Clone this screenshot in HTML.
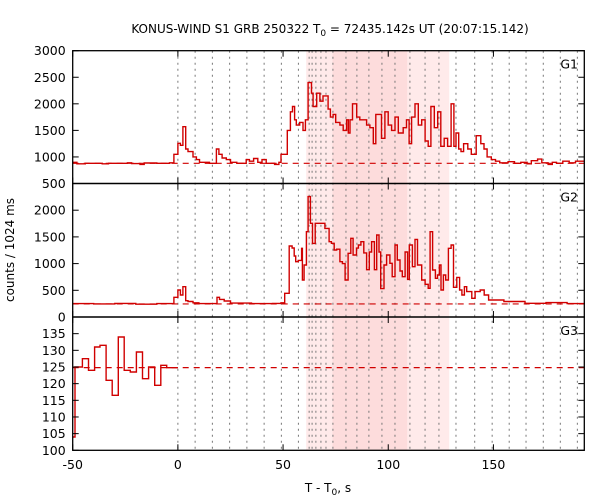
<!DOCTYPE html>
<html><head><meta charset="utf-8"><style>
html,body{margin:0;padding:0;background:#fff}
svg{display:block;font-family:"DejaVu Sans","Liberation Sans",sans-serif}
</style></head><body>
<svg id="chart" width="600" height="500" viewBox="0 0 600 500" xmlns="http://www.w3.org/2000/svg">
<text x="330" y="33" text-anchor="middle" font-size="12">KONUS-WIND S1 GRB 250322 T<tspan font-size="9" dy="3">0</tspan><tspan dy="-3"> = 72435.142s UT (20:07:15.142)</tspan></text>
<text transform="translate(14,250) rotate(-90)" text-anchor="middle" font-size="12">counts / 1024 ms</text>
<text x="328" y="492" text-anchor="middle" font-size="12">T - T<tspan font-size="9" dy="3">0</tspan><tspan dy="-3">, s</tspan></text>
<g id="layer"></g>
</svg>
<script>
// ---- data ----
const xTicks = [-50, 0, 50, 100, 150];
const dottedTimes = [0, 8.2, 16.4, 24.6, 32.8, 41, 49.2, 57.3, 62.4, 63.8, 65.6, 68, 70.4, 73.7, 79.9, 85.1, 90.8, 97, 103.2, 110.3, 117.5, 124.1, 132.2, 141.1, 149.4, 157.5, 165.5, 173.7, 181.8, 189.9];
const lightShade = [61, 129];
const darkShade = [73.5, 109];

const g1Times = [-50,-48,-44,-36,-33,-24,-22,-18,-16,-10,-4,-1.9,0,1.2,2.4,3.7,4.8,7.2,8.8,10.3,15,18.3,19.5,21,23,25,28,32.5,34,36,38,40,42,46,48,49,52,53.5,54.5,55.5,56.3,57.9,59.5,60.6,61.9,63.5,64.3,66,67.5,69,71.4,72.5,73.8,75,77,78.6,80.2,81,81.8,83,85,86.5,89.7,91.3,92.9,94.1,96.8,98.4,100,101.6,103.2,104.8,107.1,108.7,109.9,111.1,112.7,114.3,115.9,117.5,119,120.3,121.9,123.5,125,126.6,128.2,129.9,131.2,132.2,133.5,134.6,135.8,137.8,139.5,141.8,144,145.5,147,149,151,153,157,160,163,166,168,171,173,176,178,180,183,186,189,193.2];
const g1Values = [900,870,880,870,880,890,875,860,885,880,890,1050,1257,1220,1570,1150,1100,1000,950,900,880,1150,1050,980,950,900,880,950,920,970,900,950,880,860,900,1050,1500,1850,1950,1700,1600,1650,1500,1700,2400,2200,1950,2200,2050,2150,1900,1750,1800,1650,1600,1500,1700,1450,1700,2000,1750,1700,1600,1550,1250,1800,1350,1850,1600,1500,1750,1450,1550,1700,1250,1750,2000,1600,1700,1300,1200,1950,1550,1850,1200,1350,1200,2000,1200,1450,1150,1100,1250,1150,1050,1400,1250,1150,1000,950,920,890,910,880,900,870,930,960,890,860,900,880,920,890,920];
const g1Base = 880;

const g2Times = [-50,-40,-30,-20,-10,-1.9,0,1.2,2.4,3.7,4.8,7.2,10,18.6,19.8,22,25,35,45,49,50.8,52.9,54.3,55.3,56,57.2,58.8,59.2,60,61.1,61.9,63,64,65.3,69.9,71.9,73,74.3,75.5,77,78.2,79.5,80.9,82.2,83.3,84.9,85.8,87,88.4,89.7,91,92.1,93.4,94.5,95.6,96.4,98,99.2,100.8,101.9,103.2,104.3,105.6,106.7,108,109.2,110,111.5,112.7,113.9,115.9,117.5,119,119.9,121.1,122.4,123.4,124.3,125.1,126.2,127.3,128.6,129.9,131,132.6,133.9,135,136.2,137.3,139.7,141.3,143.7,145.6,147.7,155,165,175,185,193.2];
const g2Values = [250,245,255,240,250,369,506,412,568,306,290,265,250,369,330,300,260,250,255,265,444,1329,1292,1142,1036,1060,1286,693,973,1598,2254,1754,1379,1754,1660,1410,1380,1254,1270,1036,1000,693,1192,1473,1161,1290,1348,1410,1200,886,1217,1410,886,1535,1217,531,973,1161,1005,755,1348,1067,861,755,1217,705,1348,942,1454,973,693,612,537,1598,880,724,786,973,506,786,693,1286,1348,556,742,506,412,568,475,350,475,506,412,318,290,256,270,250,260];
const g2Base = 245;

const g3Times = [-50,-48.9,-45.4,-42.5,-39.6,-37,-34.1,-31.2,-28.3,-25.5,-22.6,-19.7,-16.8,-13.9,-11,-8.1,-5.3,0];
const g3Values = [104,125,127.5,124,131,131.5,121,116.5,134,124,123.5,129.5,121.5,125,119.5,125.5,124.8];
const g3Base = 124.8;

const g1TickVals = [500,1000,1500,2000,2500,3000];
const g2TickVals = [0,500,1000,1500,2000,2500];
const g2TickLabels = ["0","500","1000","1500","2000",""];
const g3TickVals = [100,105,110,115,120,125,130,135,140];
const g3TickLabels = ["100","105","110","115","120","125","130","135",""];

// ---- layout ----
const L = 72.7, R = 584.3, XMIN = -50, XMAX = 193.2;
const xs = t => L + (t - XMIN) / (XMAX - XMIN) * (R - L);
const panels = [
  {name:'g1', label:'G1', top:50.7, bot:183.5, ymin:500, ymax:3000, t:g1Times, v:g1Values, base:g1Base, ticks:g1TickVals, labels:g1TickVals.map(String), tEnd:193.2},
  {name:'g2', label:'G2', top:183.5, bot:317, ymin:0, ymax:2500, t:g2Times, v:g2Values, base:g2Base, ticks:g2TickVals, labels:g2TickLabels, tEnd:193.2},
  {name:'g3', label:'G3', top:317, bot:450.3, ymin:100, ymax:140, t:g3Times, v:g3Values, base:g3Base, ticks:g3TickVals, labels:g3TickLabels, tEnd:0}
];
const NS = 'http://www.w3.org/2000/svg';
const layer = document.getElementById('layer');
function mk(tag, attrs, parent) {
  const e = document.createElementNS(NS, tag);
  for (const k in attrs) e.setAttribute(k, attrs[k]);
  (parent || layer).appendChild(e);
  return e;
}
const TOP = panels[0].top, BOT = panels[2].bot;
let r1 = mk('rect', {x: xs(lightShade[0]), y: TOP, width: xs(lightShade[1]) - xs(lightShade[0]), height: BOT - TOP, fill: '#ffeaea'});


let r2 = mk('rect', {x: xs(darkShade[0]), y: TOP, width: xs(darkShade[1]) - xs(darkShade[0]), height: BOT - TOP, fill: '#fddcdc'});


dottedTimes.forEach(t => {
  const ln = mk('line', {x1: xs(t), x2: xs(t), y1: TOP, y2: BOT, stroke: '#777', 'stroke-width': 1, 'stroke-dasharray': '2,4'});
  
  
});
panels.forEach(p => {
  const ys = v => p.bot - (v - p.ymin) / (p.ymax - p.ymin) * (p.bot - p.top);
  const g = mk('g', {});
  
  
  const bl = mk('line', {x1: xs(XMIN), x2: R, y1: ys(p.base), y2: ys(p.base), stroke: '#d00000', 'stroke-width': 1.2, 'stroke-dasharray': '6,5'}, g);
  
  
  let d = '';
  for (let i = 0; i < p.v.length; i++) {
    const x0 = xs(p.t[i]);
    const x1 = xs(i + 1 < p.t.length ? p.t[i + 1] : p.tEnd);
    const y = ys(p.v[i]);
    d += (i === 0 ? 'M' : 'L') + x0.toFixed(1) + ',' + y.toFixed(1) + 'L' + x1.toFixed(1) + ',' + y.toFixed(1);
  }
  const path = mk('path', {d: d, fill: 'none', stroke: '#d00000', 'stroke-width': 1.4}, g);
  
  
  const fr = mk('rect', {x: L, y: p.top, width: R - L, height: p.bot - p.top, fill: 'none', stroke: '#000', 'stroke-width': 1.3}, g);
  
  
  p.ticks.forEach((v, i) => {
    const y = ys(v);
    mk('line', {x1: L, x2: L + 6, y1: y, y2: y, stroke: '#000', 'stroke-width': 1}, g);
    mk('line', {x1: R - 6, x2: R, y1: y, y2: y, stroke: '#000', 'stroke-width': 1}, g);
    if (p.labels[i]) {
      const tx = mk('text', {x: L - 7, y: y + 4.5, 'text-anchor': 'end', 'font-size': 12.5}, g);
      tx.textContent = p.labels[i];
      
      
    }
  });
  xTicks.forEach(t => {
    const x = xs(t);
    mk('line', {x1: x, x2: x, y1: p.top, y2: p.top + 6, stroke: '#000', 'stroke-width': 1}, g);
    mk('line', {x1: x, x2: x, y1: p.bot - 6, y2: p.bot, stroke: '#000', 'stroke-width': 1}, g);
  });
  const lb = mk('text', {x: 578, y: p.top + 18, 'text-anchor': 'end', 'font-size': 12.5}, g);
  lb.textContent = p.label;
  
  
});
xTicks.forEach(t => {
  const tx = mk('text', {x: xs(t), y: 469, 'text-anchor': 'middle', 'font-size': 12.5});
  tx.textContent = String(t);
  
  
});
</script>
</body></html>
